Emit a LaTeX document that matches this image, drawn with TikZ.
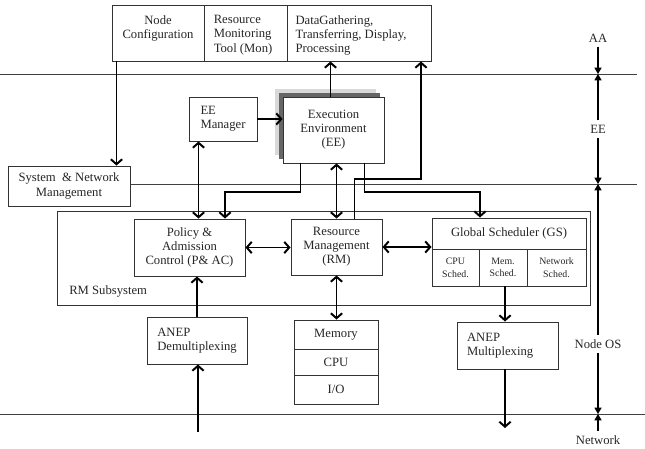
\documentclass[tikz,border=0pt]{standalone}
\usepackage{fontspec}
\setmainfont{Liberation Serif}
\usetikzlibrary{arrows.meta, positioning, calc}
\newcommand{\pxu}{0.025cm}

\begin{document}
\begin{tikzpicture}[x=0.025cm, y=-0.025cm,
    font=\fontsize{9}{10}\selectfont,
    every node/.style={text=black!85},
    box/.style={draw=black!80, line width=0.7pt, fill=white, align=center, inner sep=0pt},
    lbl/.style={inner sep=0pt, align=left},
    arr/.style={line width=1.4pt, -{Straight Barb[length=3.5pt, width=8pt]}},
    darr/.style={line width=1.4pt, {Straight Barb[length=3.5pt, width=8pt]}-{Straight Barb[length=3.5pt, width=8pt]}},
    layer/.style={line width=0.6pt, black!75},
    dim/.style={line width=0.9pt, -{Triangle[length=4.5pt, width=5pt]}},
    dimlbl/.style={inner sep=3pt}]
\useasboundingbox (0,0) rectangle (645,448);

% layer boundaries
\draw[layer] (0,74) -- (637,74);
\draw[layer] (130,184) -- (637,184);
\draw[layer] (0,414) -- (645,414);

% application layer
\node[box, minimum width=92*\pxu, minimum height=56*\pxu] (cfg) at (158,33) {};
\node[box, minimum width=83*\pxu, minimum height=56*\pxu] (mon) at (245.5,33) {};
\node[box, minimum width=144*\pxu, minimum height=56*\pxu] (data) at (359,33) {};
\node[lbl, align=center, below=0.27cm of cfg.north] (cfgtxt) {Node\\Configuration};
\node[lbl, below right=0.27cm and 0.25cm of mon.north west] (montxt) {Resource\\Monitoring\\Tool (Mon)};
\node[lbl, below right=0.27cm and 0.22cm of data.north west] (datatxt) {DataGathering,\\Transferring, Display,\\Processing};

% execution environment
\node[box, minimum width=68*\pxu, minimum height=44*\pxu, align=left] (eem) at (223,119) {EE\\Manager};
\fill[black!15] (275,89) rectangle (376,155);
\fill[black!60] (279,93) rectangle (380,159);
\node[box, minimum width=101*\pxu, minimum height=66*\pxu] (ee) at (333.5,130) {Execution\\Environment\\(EE)};
\node[box, minimum width=122*\pxu, minimum height=40*\pxu] (sysm) at (69,186) {System~ \& Network\\Management};

% RM subsystem
\node[draw=black!80, line width=0.7pt, minimum width=533*\pxu, minimum height=94*\pxu, inner sep=0pt] (rmsub) at (323.5,258) {};
\node[lbl, anchor=west] (rmlbl) at (69,291) {RM Subsystem};
\node[box, minimum width=111*\pxu, minimum height=57*\pxu] (pac) at (189.5,247.5) {Policy \&\\Admission\\Control (P\& AC)};
\node[box, minimum width=91*\pxu, minimum height=56*\pxu] (rm) at (336.5,247) {Resource\\Management\\(RM)};
\node[box, minimum width=154*\pxu, minimum height=68*\pxu] (gs) at (509,252) {};
\node[box, minimum width=154*\pxu, minimum height=31*\pxu] (gstitle) at (509,233.5) {Global Scheduler (GS)};
\foreach \cname/\cx/\cw/\ctext in {cpus/455.5/47/{CPU\\Sched.}, mems/503/48/{Mem.\\Sched.}, nets/556.5/59/{Network\\Sched.}} {
  \node[box, minimum width=\cw*\pxu, minimum height=37*\pxu, font=\fontsize{7}{9}\selectfont] (\cname) at (\cx,267.5) {\ctext};
}

% node OS
\node[box, minimum width=100*\pxu, minimum height=47*\pxu, align=left] (demux) at (197,340.5) {ANEP\\Demultiplexing};
\node[box, minimum width=101*\pxu, minimum height=47*\pxu, text width=2.02cm, align=left] (mux) at (507.5,345.5) {ANEP\\Multiplexing};
\foreach \cname/\cy/\ch/\ctext in {mem/334.5/29/Memory, cpu/362/26/CPU, io/389.5/29/{I/O}} {
  \node[box, minimum width=84*\pxu, minimum height=\ch*\pxu] (\cname) at (336,\cy) {\ctext};
}

% connectors
\coordinate (cfgout) at ([xshift=5*\pxu]cfg.south west);
\coordinate (eetop) at ([xshift=-3*\pxu]ee.north);
\coordinate (emp) at ([xshift=10*\pxu]eem.south west);
\coordinate (eegs) at (480,192);
\coordinate (eepac) at (225,192);
\coordinate (rmdata) at (421,179);
\coordinate (netin) at (198,432);
\coordinate (netout) at (505,428);
\draw[arr] (cfgout) -- (cfgout |- sysm.north);
\draw[arr] (eetop) -- (eetop |- data.south);
\draw[arr] ([xshift=18*\pxu]rm.north) |- (rmdata) -- (rmdata |- data.south);
\draw[arr] (eem.east) -- (eem.east -| ee.west);
\draw[darr] (emp) -- (emp |- pac.north);
\draw[arr] ([xshift=-33*\pxu]ee.south) |- (eepac) -- (eepac |- pac.north);
\draw[arr] ([xshift=31*\pxu]ee.south) |- (eegs) -- (eegs |- gs.north);
\draw[darr] (rm.north |- ee.south) -- (rm.north);
\draw[darr] (pac.east) -- (pac.east -| rm.west);
\draw[darr] (rm.east) -- (rm.east -| gs.west);
\draw[darr] (rm.south) -- (rm.south |- mem.north);
\draw[arr] (netout |- gs.south) -- (netout |- mux.north);
\draw[arr] (demux.north) -- (demux.north |- pac.south);
\draw[arr] (netin) -- (netin |- demux.south);
\draw[arr] (netout |- mux.south) -- (netout);

% layer names
\node[dimlbl] (aa) at (598,38) {AA};
\node[dimlbl] (eel) at (598,129) {EE};
\node[dimlbl] (nos) at (598,344) {Node OS};
\node[dimlbl] (net) at (598,440) {Network};
\coordinate (l1) at (598,74);
\coordinate (l2) at (598,184);
\coordinate (l3) at (598,414);
\draw[dim] (aa) -- (l1);
\draw[dim] (eel) -- (l1);
\draw[dim] (eel) -- (l2);
\draw[dim] (nos) -- (l2);
\draw[dim] (nos) -- (l3);
\draw[dim] (net) -- (l3);

\end{tikzpicture}
\end{document}
